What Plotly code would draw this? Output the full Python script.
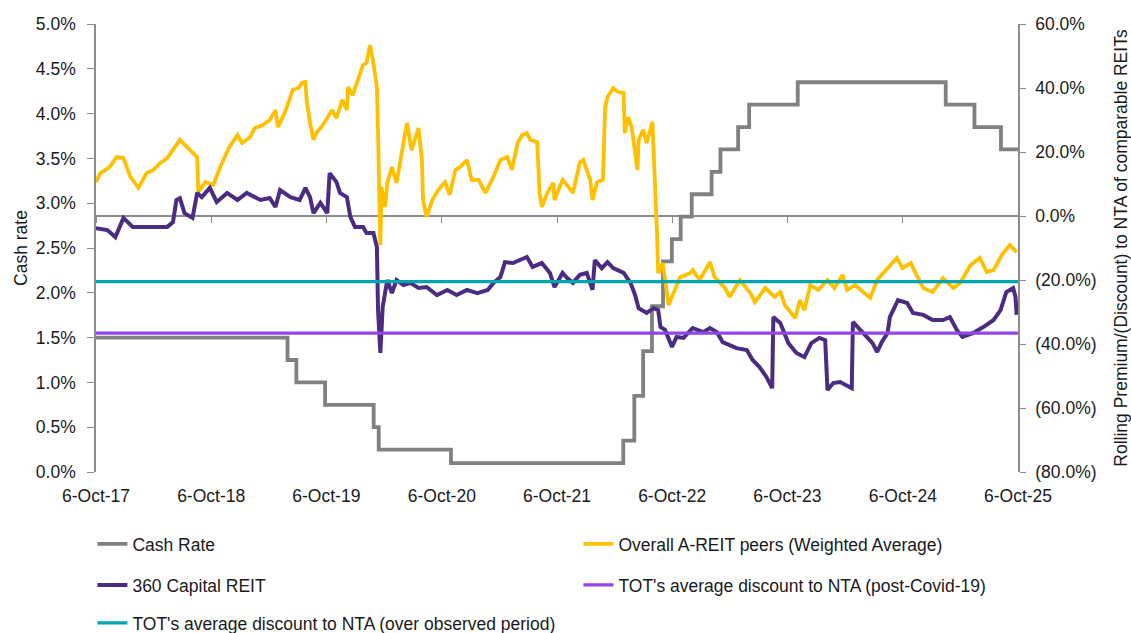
import pandas as pd
import plotly.graph_objects as go

# ---------------- data ----------------
# Cash rate steps (date the rate took effect, % p.a.)
cash_dates = ["2017-10-06", "2019-06-05", "2019-07-03", "2019-10-02", "2020-03-04",
              "2020-03-20", "2020-11-04", "2022-05-04", "2022-06-08", "2022-07-06",
              "2022-08-03", "2022-09-07", "2022-10-05", "2022-11-02", "2022-12-07",
              "2023-02-08", "2023-03-08", "2023-05-03", "2023-06-07", "2023-11-08",
              "2025-02-19", "2025-05-21", "2025-08-13", "2025-10-06"]
cash_rate = [1.50, 1.25, 1.00, 0.75, 0.50, 0.25, 0.10, 0.35, 0.85, 1.35, 1.85, 2.35,
             2.60, 2.85, 3.10, 3.35, 3.60, 3.85, 4.10, 4.35, 4.10, 3.85, 3.60, 3.60]

# Overall A-REIT peers (weighted average) premium/(discount) to NTA, %
peers_t = [2017.76, 2017.80, 2017.88, 2017.94, 2018.00, 2018.06, 2018.13, 2018.20, 2018.26,
           2018.32, 2018.38, 2018.43, 2018.49, 2018.55, 2018.60, 2018.64, 2018.65, 2018.71,
           2018.78, 2018.84, 2018.92, 2018.99, 2019.03, 2019.10, 2019.14, 2019.21, 2019.27,
           2019.32, 2019.34, 2019.40, 2019.45, 2019.47, 2019.52, 2019.55, 2019.58, 2019.59,
           2019.62, 2019.65, 2019.68, 2019.72, 2019.77, 2019.81, 2019.85, 2019.90, 2019.94,
           2019.95, 2019.99, 2020.04, 2020.08, 2020.11, 2020.14, 2020.17, 2020.20, 2020.21,
           2020.23, 2020.24, 2020.27, 2020.29, 2020.33, 2020.37, 2020.42, 2020.46, 2020.50,
           2020.56, 2020.59, 2020.60, 2020.63, 2020.68, 2020.73, 2020.79, 2020.83, 2020.88,
           2020.92, 2020.98, 2021.02, 2021.08, 2021.14, 2021.21, 2021.27, 2021.33, 2021.37,
           2021.42, 2021.46, 2021.50, 2021.53, 2021.59, 2021.61, 2021.63, 2021.68, 2021.73,
           2021.74, 2021.81, 2021.86, 2021.90, 2021.96, 2021.99, 2022.05, 2022.07, 2022.11,
           2022.16, 2022.18, 2022.20, 2022.25, 2022.29, 2022.34, 2022.35, 2022.38, 2022.41,
           2022.46, 2022.47, 2022.51, 2022.54, 2022.59, 2022.60, 2022.61, 2022.63, 2022.64,
           2022.68, 2022.73, 2022.79, 2022.83, 2022.92, 2022.94, 2023.00, 2023.09, 2023.13,
           2023.22, 2023.26, 2023.35, 2023.44, 2023.48, 2023.57, 2023.65, 2023.70, 2023.74,
           2023.83, 2023.87, 2023.91, 2023.96, 2024.03, 2024.11, 2024.17, 2024.24, 2024.28,
           2024.35, 2024.42, 2024.48, 2024.54, 2024.63, 2024.71, 2024.76, 2024.83, 2024.89,
           2024.94, 2025.02, 2025.11, 2025.20, 2025.26, 2025.35, 2025.43, 2025.49, 2025.55,
           2025.62, 2025.69, 2025.75]
peers_val = [10.6, 13.4, 15.3, 18.4, 18.1, 12.2, 8.8, 13.4, 14.4,
             16.6, 18.1, 20.6, 23.8, 21.6, 20.0, 18.4, 7.5, 10.6,
             9.7, 15.3, 21.6, 25.3, 22.8, 24.7, 27.5, 28.4, 30.0,
             33.1, 27.8, 32.2, 37.2, 39.4, 40.0, 41.6, 41.9, 36.3,
             29.1, 23.8, 26.3, 27.8, 30.6, 33.1, 30.6, 36.3, 33.1,
             40.3, 37.8, 43.4, 47.2, 47.8, 53.4, 47.8, 40.3, 25.9,
             -9.1, 9.1, 2.8, 10.3, 15.3, 10.3, 21.6, 29.1, 20.6,
             27.5, 17.5, 5.0, -0.3, 5.0, 8.1, 10.6, 6.6, 14.4,
             15.3, 17.5, 11.3, 11.3, 7.2, 12.2, 17.5, 18.4, 14.4,
             22.8, 25.3, 25.9, 23.8, 23.1, 7.2, 2.8, 7.5, 10.3,
             5.0, 11.3, 9.1, 7.2, 16.6, 17.5, 11.3, 5.0, 10.6,
             11.3, 34.1, 37.2, 40.0, 38.8, 38.4, 25.9, 30.9, 27.8,
             14.4, 23.8, 26.9, 22.8, 29.4, 21.6, 12.2, -5.3, -17.8,
             -14.7, -27.8, -22.5, -19.1, -17.8, -16.9, -20.0, -14.4, -19.1,
             -22.5, -25.3, -20.0, -24.1, -26.9, -22.5, -25.3, -23.8, -27.8,
             -31.9, -26.3, -29.4, -21.6, -23.1, -20.0, -22.5, -18.4, -23.1,
             -21.6, -23.8, -25.6, -20.0, -16.3, -13.1, -16.3, -14.7, -19.1,
             -22.5, -23.8, -19.4, -22.5, -20.9, -15.3, -13.1, -17.5, -16.9,
             -12.2, -9.1, -11.3]

# 360 Capital REIT premium/(discount) to NTA, %
reit_t = [2017.76, 2017.86, 2017.93, 2018.00, 2018.08, 2018.23, 2018.38, 2018.43, 2018.46,
          2018.49, 2018.53, 2018.60, 2018.64, 2018.68, 2018.75, 2018.81, 2018.90, 2018.99,
          2019.07, 2019.19, 2019.27, 2019.32, 2019.36, 2019.45, 2019.53, 2019.58, 2019.62,
          2019.65, 2019.71, 2019.77, 2019.79, 2019.85, 2019.88, 2019.94, 2019.97, 2020.01,
          2020.08, 2020.11, 2020.17, 2020.20, 2020.21, 2020.23, 2020.25, 2020.29, 2020.33,
          2020.37, 2020.43, 2020.49, 2020.56, 2020.63, 2020.72, 2020.81, 2020.89, 2020.98,
          2021.07, 2021.16, 2021.21, 2021.27, 2021.31, 2021.38, 2021.44, 2021.50, 2021.55,
          2021.63, 2021.70, 2021.74, 2021.81, 2021.85, 2021.90, 2021.96, 2022.02, 2022.07,
          2022.09, 2022.15, 2022.20, 2022.25, 2022.34, 2022.40, 2022.44, 2022.47, 2022.54,
          2022.60, 2022.64, 2022.66, 2022.70, 2022.76, 2022.80, 2022.86, 2022.94, 2023.03,
          2023.09, 2023.15, 2023.20, 2023.26, 2023.32, 2023.41, 2023.46, 2023.52, 2023.58,
          2023.63, 2023.64, 2023.70, 2023.77, 2023.84, 2023.91, 2023.97, 2024.04, 2024.09,
          2024.11, 2024.16, 2024.22, 2024.32, 2024.33, 2024.42, 2024.50, 2024.54, 2024.58,
          2024.63, 2024.65, 2024.72, 2024.80, 2024.85, 2024.94, 2025.02, 2025.11, 2025.17,
          2025.23, 2025.28, 2025.37, 2025.46, 2025.55, 2025.61, 2025.66, 2025.72, 2025.74,
          2025.75]
reit_val = [-3.8, -4.4, -6.6, -0.6, -3.4, -3.4, -3.4, -1.9, 5.0,
            5.6, 0.9, -0.6, 7.2, 5.9, 8.8, 4.4, 7.2, 5.0,
            7.2, 5.0, 5.6, 2.8, 8.1, 5.9, 5.0, 8.8, 5.9,
            0.9, 4.1, 0.9, 13.4, 10.6, 7.2, 5.9, -0.3, -3.4,
            -3.4, -5.3, -5.3, -9.7, -29.4, -42.8, -28.4, -20.0, -24.1,
            -20.0, -21.6, -20.9, -22.5, -22.2, -24.7, -23.1, -24.7, -23.1,
            -24.1, -23.1, -20.9, -19.1, -14.4, -14.7, -13.8, -12.8, -15.9,
            -14.7, -17.8, -22.2, -17.8, -19.4, -20.9, -18.4, -17.8, -23.1,
            -13.8, -16.3, -14.4, -16.3, -17.8, -20.9, -24.7, -28.8, -30.3,
            -28.8, -29.4, -34.7, -35.6, -40.9, -37.8, -38.1, -35.0, -36.3,
            -35.0, -36.3, -39.4, -40.3, -41.3, -41.9, -45.0, -47.2, -50.3,
            -53.8, -31.6, -33.4, -39.7, -42.8, -44.1, -39.7, -38.1, -38.8,
            -54.4, -52.2, -51.9, -53.8, -33.1, -36.6, -39.7, -42.5, -39.4,
            -36.6, -31.6, -26.3, -27.2, -30.3, -30.9, -32.5, -32.5, -31.6,
            -35.6, -37.8, -36.6, -34.7, -32.5, -29.4, -23.8, -22.5, -25.3,
            -30.9]

avg_period_dates = ["2017-10-06", "2025-10-06"]
avg_post_covid = [-36.6, -36.6]       # TOT's average discount (post-Covid-19), %
avg_observed = [-20.5, -20.5]         # TOT's average discount (over observed period), %

x_tick_dates = ["2017-10-06", "2018-10-06", "2019-10-06", "2020-10-06", "2021-10-06",
                "2022-10-06", "2023-10-06", "2024-10-06", "2025-10-06"]
x_tick_text = ["6-Oct-17", "6-Oct-18", "6-Oct-19", "6-Oct-20", "6-Oct-21",
               "6-Oct-22", "6-Oct-23", "6-Oct-24", "6-Oct-25"]
left_ticks = [0.0, 0.5, 1.0, 1.5, 2.0, 2.5, 3.0, 3.5, 4.0, 4.5, 5.0]
left_tick_text = ["0.0%", "0.5%", "1.0%", "1.5%", "2.0%", "2.5%", "3.0%", "3.5%",
                  "4.0%", "4.5%", "5.0%"]
right_ticks = [-80, -60, -40, -20, 0, 20, 40, 60]
right_tick_text = ["(80.0%)", "(60.0%)", "(40.0%)", "(20.0%)", "0.0%", "20.0%", "40.0%", "60.0%"]


def to_dates(decimal_years):
    out = []
    for t in decimal_years:
        y = int(t)
        start = pd.Timestamp(year=y, month=1, day=1)
        end = pd.Timestamp(year=y + 1, month=1, day=1)
        out.append(start + (end - start) * (t - y))
    return out


# ---------------- styling ----------------
FONT = "Liberation Sans, Arial, sans-serif"
FS = 17.5
TXT = "#1a1a1a"
AXIS = "#8c8c8c"
GREY = "#808080"
GOLD = "#FFC000"
DPURPLE = "#4B2C80"
LPURPLE = "#9146E6"
TEAL = "#00A5B0"

fig = go.Figure()

fig.add_trace(go.Scatter(x=pd.to_datetime(cash_dates), y=cash_rate, mode="lines",
                         line=dict(color=GREY, width=3.8, shape="hv"),
                         name="Cash Rate", legend="legend", yaxis="y"))
fig.add_trace(go.Scatter(x=to_dates(peers_t), y=peers_val, mode="lines",
                         line=dict(color=GOLD, width=3.8),
                         name="Overall A-REIT peers (Weighted Average)", legend="legend",
                         yaxis="y2"))
fig.add_trace(go.Scatter(x=to_dates(reit_t), y=reit_val, mode="lines",
                         line=dict(color=DPURPLE, width=4),
                         name="360 Capital REIT", legend="legend2", yaxis="y2"))
fig.add_trace(go.Scatter(x=pd.to_datetime(avg_period_dates), y=avg_post_covid, mode="lines",
                         line=dict(color=LPURPLE, width=3.2),
                         name="TOT's average discount to NTA (post-Covid-19)",
                         legend="legend2", xaxis="x2", yaxis="y2"))
fig.add_trace(go.Scatter(x=pd.to_datetime(avg_period_dates), y=avg_observed, mode="lines",
                         line=dict(color=TEAL, width=3.2),
                         name="TOT's average discount to NTA (over observed period)",
                         legend="legend3", xaxis="x2", yaxis="y2"))

x_range = [pd.Timestamp(x_tick_dates[0]), pd.Timestamp(x_tick_dates[-1])]

H_PLOT = 448.0
zero_pos = (0 - right_ticks[0]) / (right_ticks[-1] - right_ticks[0])


def leg(ypix):
    return dict(orientation="h", x=-0.0039, xanchor="left", y=(472 - ypix) / H_PLOT,
                yanchor="middle", entrywidth=441, entrywidthmode="pixels",
                font=dict(family=FONT, size=FS, color=TXT), bgcolor="rgba(0,0,0,0)",
                itemwidth=30, traceorder="normal")


fig.update_layout(
    width=1131, height=633,
    margin=dict(l=96, r=113, t=24, b=161, autoexpand=False),
    plot_bgcolor="white", paper_bgcolor="white",
    font=dict(family=FONT, size=FS, color=TXT),
    showlegend=True,
    legend=leg(544),
    legend2=leg(585),
    legend3=leg(623),
    xaxis=dict(type="date", range=x_range, tickvals=pd.to_datetime(x_tick_dates),
               ticktext=x_tick_text, showline=False, showgrid=False, zeroline=False,
               ticks="", ticklabelstandoff=11, automargin=False,
               tickfont=dict(family=FONT, size=FS, color=TXT)),
    xaxis2=dict(type="date", range=x_range, overlaying="x", anchor="free",
                position=zero_pos, tickvals=pd.to_datetime(x_tick_dates),
                showticklabels=False, showline=True, linecolor=AXIS, linewidth=1.5,
                ticks="outside", ticklen=6, tickcolor=AXIS, tickwidth=1.3,
                showgrid=False, zeroline=False, layer="below traces", automargin=False),
    yaxis=dict(range=[0, 5], tickvals=left_ticks, ticktext=left_tick_text,
               showline=True, linecolor=AXIS, linewidth=1.5, ticks="outside", ticklen=7,
               tickcolor=AXIS, tickwidth=1.3, showgrid=False, zeroline=False,
               ticklabelstandoff=8, automargin=False,
               title=dict(text="Cash rate", font=dict(family=FONT, size=FS, color=TXT),
                          standoff=4),
               tickfont=dict(family=FONT, size=FS, color=TXT)),
    yaxis2=dict(range=[right_ticks[0], right_ticks[-1]], tickvals=right_ticks,
                ticktext=right_tick_text, overlaying="y", side="right", anchor="x",
                showline=True, linecolor=AXIS, linewidth=1.5, ticks="outside", ticklen=6,
                tickcolor=AXIS, tickwidth=1.3, showgrid=False, zeroline=False,
                ticklabelstandoff=6, automargin=False,
                title=dict(text="Rolling Premium/(Discount) to NTA of comparable REITs",
                           font=dict(family=FONT, size=FS, color=TXT), standoff=19),
                tickfont=dict(family=FONT, size=FS, color=TXT)),
)

# remove the browser's default 8px page margin so the figure sits at the page origin
fig.write_html("out.html", config={"displayModeBar": False},
               post_script="document.body.style.margin='0';document.body.style.overflow='hidden';")
